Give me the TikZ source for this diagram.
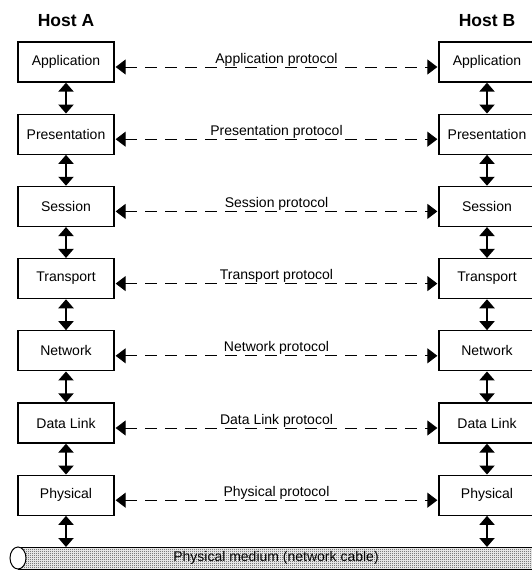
\documentclass[tikz,border=0pt]{standalone}
\usepackage{fontspec}
\setmainfont{Liberation Sans}
\usetikzlibrary{arrows.meta,patterns,calc}
\pgfdeclarepatternformonly{checkdots}{\pgfpointorigin}{\pgfpoint{2pt}{2pt}}{\pgfpoint{2pt}{2pt}}{%
  \pgfpathrectangle{\pgfpointorigin}{\pgfpoint{1pt}{1pt}}%
  \pgfpathrectangle{\pgfpoint{1pt}{1pt}}{\pgfpoint{1pt}{1pt}}%
  \pgfusepath{fill}}
\begin{document}
\begin{tikzpicture}[x=1pt,y=-1pt,
  layer/.style={draw,line width=1.3pt,minimum width=96pt,minimum height=40pt,inner sep=0pt,font=\fontsize{14}{16}\selectfont},
  vlink/.style={line width=2pt,{Triangle[length=9pt,width=15pt]}-{Triangle[length=9pt,width=15pt]}},
  proto/.style={line width=0.9pt,dash pattern=on 12pt off 8pt,{Triangle[length=10pt,width=15pt]}-{Triangle[length=10pt,width=15pt]}},
  plabel/.style={font=\fontsize{14}{16}\selectfont,inner sep=1pt,anchor=base},
  host/.style={font=\fontsize{17.5}{20}\bfseries\selectfont}]
\useasboundingbox (0,0) rectangle (532,570);
\begin{scope}
\clip (0,0) rectangle (532,570);
% hosts
\node[host] (ha) at (66,21) {Host A};
\node[host] (hb) at (487,21) {Host B};
% layers
\foreach \i/\n/\t in {0/app/Application,1/pre/Presentation,2/ses/Session,3/tra/Transport,4/net/Network,5/dl/Data Link,6/phy/Physical}{
  \pgfmathsetmacro{\cy}{62+72.2*\i}
  \node[layer] (A\n) at (66,\cy) {\t};
  \node[layer] (B\n) at (487,\cy) {\t};
}
% cable
\fill[white] (18,547) rectangle (540,569);
\fill[pattern=checkdots,pattern color=black!80] (18,547) rectangle (540,569);
\draw[line width=1pt] (18,547) -- (540,547);
\draw[line width=1pt] (18,569) -- (540,569);
\draw[line width=1pt,fill=white] (18,558) ellipse [x radius=8,y radius=11];
\node[font=\fontsize{14}{16}\selectfont] (cab) at (276,558) {Physical medium (network cable)};
\coordinate (ca) at (66,547);
\coordinate (cb) at (487,547);
\end{scope}
% vertical links
\foreach \s in {A,B}{
  \draw[vlink] (\s app.south) -- (\s pre.north);
  \draw[vlink] (\s pre.south) -- (\s ses.north);
  \draw[vlink] (\s ses.south) -- (\s tra.north);
  \draw[vlink] (\s tra.south) -- (\s net.north);
  \draw[vlink] (\s net.south) -- (\s dl.north);
  \draw[vlink] (\s dl.south) -- (\s phy.north);
}
\draw[vlink] (Aphy.south) -- (ca);
\draw[vlink] (Bphy.south) -- (cb);
% protocols
\foreach \n/\t in {app/Application protocol,pre/Presentation protocol,ses/Session protocol,tra/Transport protocol,net/Network protocol,dl/Data Link protocol,phy/Physical protocol}{
  \coordinate (L\n) at ($(A\n.east)+(1,5)$);
  \coordinate (R\n) at ($(B\n.west)+(-1,5)$);
  \draw[proto] (L\n) -- (R\n);
  \node[plabel] (T\n) at ($(L\n)!0.5!(R\n)+(0,-4)$) {\t};
}
\end{tikzpicture}
\end{document}
